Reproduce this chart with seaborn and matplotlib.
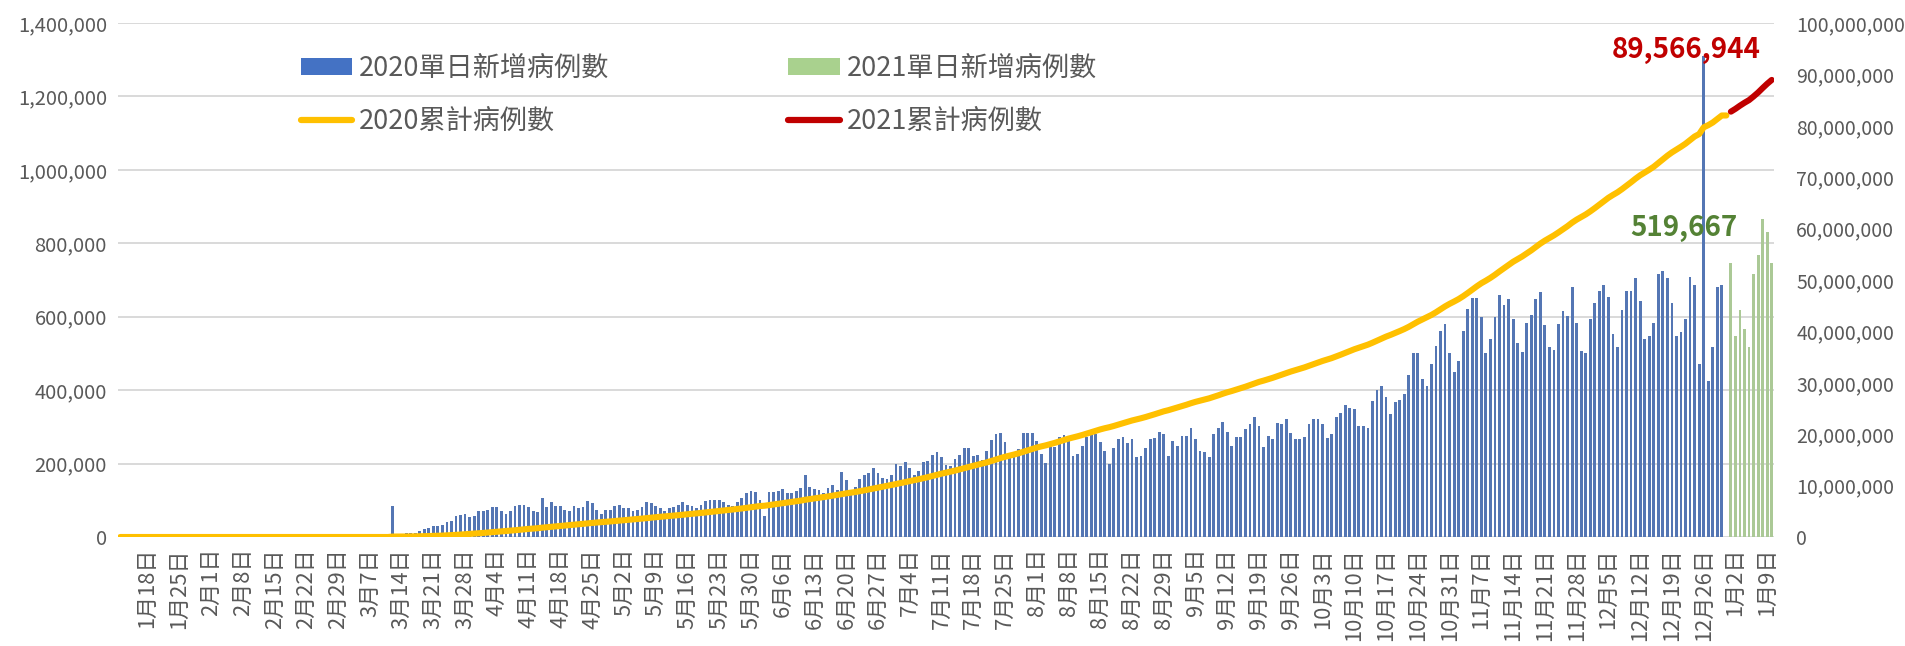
import numpy as np
import pandas as pd
import matplotlib.pyplot as plt
import seaborn as sns
from matplotlib.patches import Patch
from matplotlib.lines import Line2D
from matplotlib.ticker import FuncFormatter, MultipleLocator

# categories: one per day, 2020-01-12 .. 2021-01-10
dates = pd.date_range('2020-01-12', '2021-01-10', freq='D')
day_labels = [f'{d.month}月{d.day}日' for d in dates]

# daily new cases (thousands)
daily_2020_k = (
    [0] * 60 + [85, 0, 0]
    # Mar 15 - Jun 7
    + [12, 12, 12, 16, 22, 25, 29, 29, 33, 40,
       44, 56, 61, 64, 54, 56, 71, 71, 74, 81,
       81, 71, 64, 71, 84, 88, 88, 81, 71, 67,
       105, 81, 95, 84, 84, 74, 71, 84, 78, 81,
       99, 92, 74, 64, 74, 74, 84, 88, 78, 78,
       71, 74, 81, 95, 92, 84, 78, 71, 78, 81,
       88, 95, 88, 84, 78, 88, 99, 102, 102, 102,
       95, 88, 84, 95, 105, 120, 126, 123, 102, 56,
       123, 123, 126, 130, 120]
    # Jun 8 - Jul 23
    + [120, 125, 133, 168, 137, 130, 127, 120, 133, 141,
       127, 176, 154, 123, 137, 158, 168, 174, 189, 175,
       162, 158, 168, 200, 193, 203, 189, 168, 179, 203,
       207, 223, 232, 217, 196, 193, 213, 224, 242, 242,
       221, 224, 211, 234, 265, 280]
    # Jul 24 - Oct 20
    + [283, 259, 220, 225, 241, 283, 283, 283, 262, 227,
       202, 245, 245, 272, 279, 268, 221, 227, 248, 272,
       281, 281, 259, 234, 200, 242, 266, 273, 255, 266,
       217, 221, 242, 266, 270, 287, 280, 221, 262, 248,
       276, 276, 297, 266, 234, 232, 217, 280, 297, 314,
       287, 248, 272, 272, 293, 308, 328, 303, 245, 276,
       266, 311, 307, 321, 283, 266, 266, 272, 307, 322,
       321, 307, 270, 280, 328, 339, 360, 352, 349, 301,
       301, 297, 370, 401, 411, 380, 335, 367, 374]
    # Oct 21 - Nov 11
    + [390, 440, 500, 500, 430, 410, 470, 520, 560, 580,
       500, 450, 480, 560, 620, 650, 650, 600, 500, 540,
       600, 660]
    # Nov 12 - Dec 31
    + [631, 649, 593, 528, 504, 583, 604, 649, 666, 577,
       517, 510, 580, 615, 601, 681, 583, 507, 500, 593,
       638, 670, 687, 653, 552, 518, 617, 670, 670, 706,
       642, 538, 548, 583, 715, 725, 706, 638, 548, 558,
       594, 708, 687, 472, 1310, 424, 517, 680, 687, 0]
)
daily_2021_k = [745, 548, 617, 566, 517, 716, 767, 865, 831, 746]

daily_2020 = [v * 1000 for v in daily_2020_k]
daily_2021 = [v * 1000 for v in daily_2021_k]
cum_2020 = np.cumsum(daily_2020)
cum_2021 = cum_2020[-1] + np.cumsum(daily_2021)

n20 = len(daily_2020)
days_2020 = list(range(n20))
days_2021 = list(range(n20, n20 + len(daily_2021)))

lab_bar20 = '2020單日新增病例數'
lab_bar21 = '2021單日新增病例數'
lab_cum20 = '2020累計病例數'
lab_cum21 = '2021累計病例數'

c_blue = '#4472c4'
c_green = '#a9d18e'
c_yellow = '#ffc000'
c_red = '#c00000'
c_text = '#595959'

bars = pd.DataFrame({
    'day': days_2020 + days_2021,
    'cases': daily_2020 + daily_2021,
    'series': [lab_bar20] * n20 + [lab_bar21] * len(daily_2021),
})

sns.set_theme(style='white')
plt.rcParams['font.family'] = ['Noto Sans CJK TC', 'DejaVu Sans']

fig = plt.figure(figsize=(19.05, 6.46), dpi=100)
W, H = 1905, 646
ax = fig.add_axes([118 / W, 1 - 537 / H, (1774 - 118) / W, (537 - 23) / H])

sns.barplot(data=bars, x='day', y='cases', hue='series',
            order=list(range(len(dates))), hue_order=[lab_bar20, lab_bar21],
            palette=[c_blue, c_green], width=0.62, errorbar=None,
            linewidth=0, legend=False, ax=ax)

ax2 = ax.twinx()
sns.lineplot(x=days_2020, y=cum_2020, ax=ax2, color=c_yellow, linewidth=4.4,
             solid_capstyle='round')
sns.lineplot(x=days_2021, y=cum_2021, ax=ax2, color=c_red, linewidth=4.4,
             solid_capstyle='round')

ax.set_xlim(-0.5, len(dates) - 0.5)
ax.set_ylim(0, 1400000)
ax2.set_ylim(0, 100000000)
ax.yaxis.set_major_locator(MultipleLocator(200000))
ax2.yaxis.set_major_locator(MultipleLocator(10000000))
comma = FuncFormatter(lambda v, p: f'{int(v):,}')
ax.yaxis.set_major_formatter(comma)
ax2.yaxis.set_major_formatter(comma)

tick_pos = list(range(6, len(dates), 7))
ax.set_xticks(tick_pos)
ax.set_xticklabels([day_labels[i] for i in tick_pos], rotation=90)

ax.set_xlabel('')
ax.set_ylabel('')
ax2.set_xlabel('')
ax2.set_ylabel('')

ax.set_axisbelow(True)
ax.yaxis.grid(True, color='#d9d9d9', linewidth=1.4)
ax.xaxis.grid(False)
for a in (ax, ax2):
    for s in a.spines.values():
        s.set_visible(False)

ax.tick_params(axis='x', length=0, pad=8, labelsize=15.8, labelcolor=c_text)
ax.tick_params(axis='y', length=0, pad=8, labelsize=14.5, labelcolor=c_text)
ax2.tick_params(axis='y', length=0, pad=16, labelsize=14, labelcolor=c_text)

# value labels
ax2.annotate('89,566,944',
             xy=(days_2021[-1], cum_2021[-1]), xytext=(-11, 30),
             textcoords='offset pixels', ha='right', va='center',
             fontsize=20, fontweight='bold', color=c_red)
ax.text(356.5, 842000, '519,667', ha='right', va='center',
        fontsize=20, fontweight='bold', color='#548235')

handles = [
    Patch(facecolor=c_blue, edgecolor='none'),
    Line2D([0], [0], color=c_yellow, linewidth=4.5, solid_capstyle='round'),
    Patch(facecolor=c_green, edgecolor='none'),
    Line2D([0], [0], color=c_red, linewidth=4.5, solid_capstyle='round'),
]
labels = [lab_bar20, lab_cum20, lab_bar21, lab_cum21]
leg = fig.legend(handles, labels, ncol=2, loc='upper left',
                 bbox_to_anchor=(301 / W, 1 - 55 / H), frameon=False,
                 fontsize=19.5, handlelength=1.9, handleheight=0.55,
                 handletextpad=0.25, columnspacing=6.6, labelspacing=0.95,
                 borderpad=0, borderaxespad=0)
for t in leg.get_texts():
    t.set_color(c_text)

fig.savefig('out.png', dpi=100)
